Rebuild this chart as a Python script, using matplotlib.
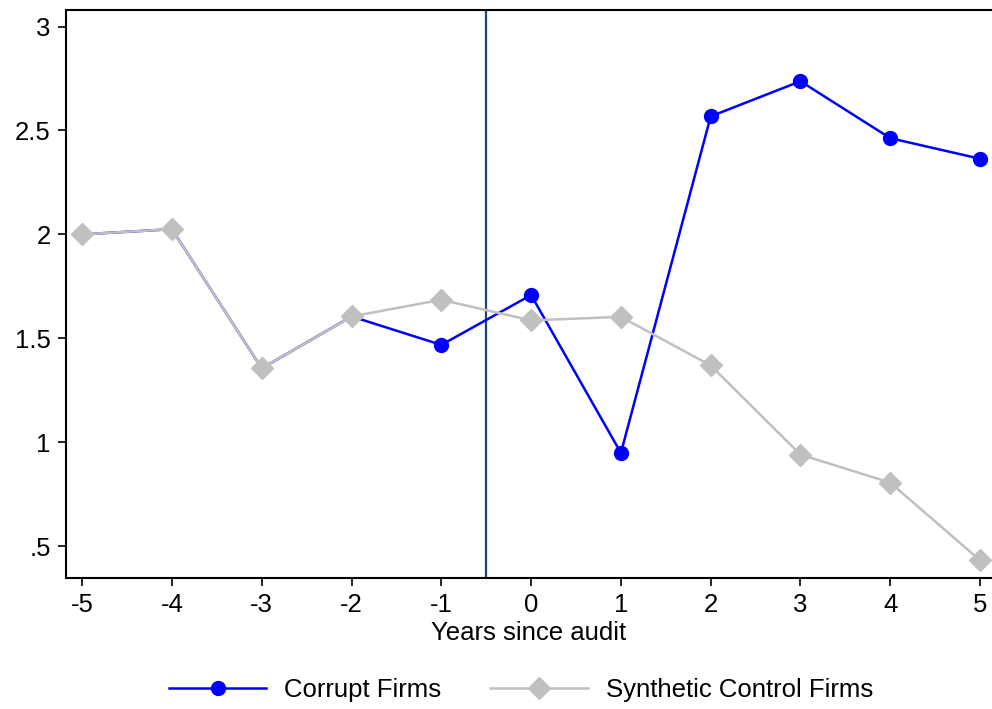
import matplotlib
matplotlib.use("Agg")
import matplotlib.pyplot as plt

plt.rcParams['font.family'] = ['Liberation Sans', 'DejaVu Sans']

years = [-5, -4, -3, -2, -1, 0, 1, 2, 3, 4, 5]
corrupt = [2.00, 2.025, 1.355, 1.605, 1.468, 1.708, 0.948, 2.568, 2.737, 2.463, 2.364]
synthetic = [2.00, 2.025, 1.355, 1.605, 1.685, 1.586, 1.603, 1.369, 0.940, 0.805, 0.431]
yticks = [0.5, 1, 1.5, 2, 2.5, 3]
ytick_labels = ['.5', '1', '1.5', '2', '2.5', '3']
audit_line = -0.5

fig = plt.figure(figsize=(9.92, 7.09), dpi=100)
ax = fig.add_axes([66 / 992, 131 / 709, 926 / 992, 568 / 709])

ax.plot(years, corrupt, color='#0000ff', lw=1.8, marker='o', ms=10,
        label='Corrupt Firms', zorder=3)
ax.plot(years, synthetic, color='#c0c0c0', lw=1.8, marker='D', ms=11,
        label='Synthetic Control Firms', zorder=4)
ax.axvline(audit_line, color='#1a476f', lw=1.6, zorder=2)

ax.set_xlim(-5.18, 5.133)
ax.set_ylim(0.346, 3.08)
ax.set_xticks(years)
ax.set_xticklabels([str(y) for y in years])
ax.set_yticks(yticks)
ax.set_yticklabels(ytick_labels)
ax.tick_params(direction='out', length=6, width=1.2, color='black',
               labelsize=18.5, pad=5)
for side in ['left', 'bottom', 'top']:
    ax.spines[side].set_linewidth(1.5)
ax.spines['right'].set_visible(False)

ax.set_xlabel('Years since audit', fontsize=18.5, labelpad=3)

fig.legend(loc='center', bbox_to_anchor=(521 / 992, 1 - 690 / 709), ncol=2,
           frameon=False, fontsize=18.5, handlelength=3.8, columnspacing=1.9,
           handletextpad=0.7)

fig.savefig('out.png', dpi=100)
